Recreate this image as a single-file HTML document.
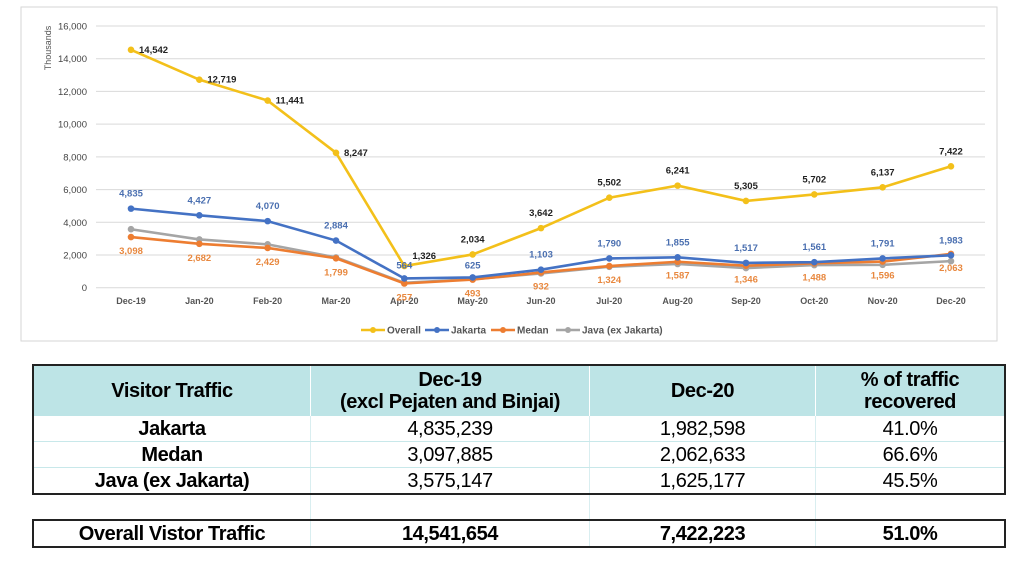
<!DOCTYPE html>
<html><head><meta charset="utf-8"><style>
body{margin:0;width:1030px;height:563px;background:#fff;overflow:hidden;font-family:"Liberation Sans",sans-serif}
#chart{position:absolute;left:0;top:0}
table{position:absolute;left:32px;top:364px;width:974px;border-collapse:collapse;font-family:"Liberation Sans Narrow","Liberation Sans",sans-serif;font-size:20px;color:#000;letter-spacing:-0.4px}
td{text-align:center;padding:0;border-left:1px solid #d9eef0;line-height:22px}
td:first-child{border-left:none}
.h td{background:#bde4e6;height:50px;font-weight:bold;font-size:20px;border-left:1px solid #fff;border-top:2px solid #222}
.r td{height:25px;border-bottom:1px solid #c8e8ea}
.r td:first-child{font-weight:bold;border-left:2px solid #222}
.h td:first-child{border-left:2px solid #222}
.h td:last-child,.r td:last-child{border-right:2px solid #222}
.gap td{height:24px;border-top:2px solid #222}
.o td{height:25px;font-weight:bold;border-top:2px solid #222;border-bottom:2px solid #222}
.o td:first-child{border-left:2px solid #222}
.o td:last-child{border-right:2px solid #222}
</style></head><body>
<svg id="chart" width="1030" height="345" font-family="Liberation Sans, sans-serif">
<rect x="21" y="7" width="976" height="334" fill="#fff" stroke="#d6d6d6"/>
<g id="grid"></g><g id="lines"></g><g id="labels"></g>
<text transform="translate(51,48) rotate(-90)" text-anchor="middle" font-size="9" fill="#555">Thousands</text>
<g id="legend" font-size="10" fill="#555"></g>
</svg>
<table>
<tr class="h"><td style="width:276px">Visitor Traffic</td><td style="width:278px">Dec-19<br>(excl Pejaten and Binjai)</td><td style="width:225px">Dec-20</td><td>% of traffic<br>recovered</td></tr>
<tr class="r"><td>Jakarta</td><td>4,835,239</td><td>1,982,598</td><td>41.0%</td></tr>
<tr class="r"><td>Medan</td><td>3,097,885</td><td>2,062,633</td><td>66.6%</td></tr>
<tr class="r"><td>Java (ex Jakarta)</td><td>3,575,147</td><td>1,625,177</td><td>45.5%</td></tr>
<tr class="gap"><td></td><td></td><td></td><td></td></tr>
<tr class="o"><td>Overall Vistor Traffic</td><td>14,541,654</td><td>7,422,223</td><td>51.0%</td></tr>
</table>
<script>
const categories=["Dec-19","Jan-20","Feb-20","Mar-20","Apr-20","May-20","Jun-20","Jul-20","Aug-20","Sep-20","Oct-20","Nov-20","Dec-20"];
const overall=[14542,12719,11441,8247,1326,2034,3642,5502,6241,5305,5702,6137,7422];
const jakarta=[4835,4427,4070,2884,564,625,1103,1790,1855,1517,1561,1791,1983];
const medan=[3098,2682,2429,1799,257,493,932,1324,1587,1346,1488,1596,2063];
const java=[3575,2950,2650,1850,300,520,870,1280,1450,1200,1380,1400,1625];
const yTicks=[0,2000,4000,6000,8000,10000,12000,14000,16000];
const NS="http://www.w3.org/2000/svg";
const X=i=>131+i*68.33, Y=v=>287.7-v*261.7/16000;
const fmt=v=>v.toLocaleString("en-US");
function mk(t,a,p){const e=document.createElementNS(NS,t);for(const k in a)e.setAttribute(k,a[k]);p.appendChild(e);return e;}
const g=document.getElementById("grid");
yTicks.forEach(t=>{
 const l=mk("line",{x1:96,x2:985,y1:Y(t),y2:Y(t),stroke:"#d9d9d9","stroke-width":1},g);
 
 
 const tx=mk("text",{x:87,y:Y(t)+3.5,"text-anchor":"end","font-size":"9.5",fill:"#444"},g);tx.textContent=fmt(t);
 
 
});
categories.forEach((c,i)=>{
 const tx=mk("text",{x:X(i),y:304,"text-anchor":"middle","font-size":"9","font-weight":"bold",fill:"#555"},g);tx.textContent=c;
 
 
});
const series=[["java",java,"#a5a5a5",null],["medan",medan,"#ed7d31","#e8883f"],["jakarta",jakarta,"#4472c4","#4a6fb0"],["overall",overall,"#f3c01a","#222"]];
const L=document.getElementById("lines"),LB=document.getElementById("labels");
series.forEach(([n,d,col,lc])=>{
 const p=mk("polyline",{points:d.map((v,i)=>X(i)+","+Y(v)).join(" "),fill:"none",stroke:col,"stroke-width":2.6},L);
 
 
 d.forEach((v,i)=>{
  const c=mk("circle",{cx:X(i),cy:Y(v),r:3.3,fill:col},L);
  
  
  if(!lc)return;
  let x=X(i),y=Y(v),a="middle";
  if(n==="overall"){ if(i<4||i==4){x+=8;y+=3;a="start";if(i==4)y-=10;} else y-=12; }
  else if(n==="jakarta"){ y-=12; if(i==4){y=Y(v)-10;} if(i==5)y=Y(v)-9;}
  else { y+=17; if(i==12)y=Y(v)+17; }
  const t=mk("text",{x:x,y:y,"text-anchor":a,"font-size":"9.5","font-weight":"bold",fill:lc},LB);t.textContent=fmt(v);
  
  
 });
});
const lg=document.getElementById("legend");
[["Overall","#f3c01a",361],["Jakarta","#4472c4",425],["Medan","#ed7d31",491],["Java (ex Jakarta)","#a5a5a5",556]].forEach(([n,c,x])=>{
 const l=mk("line",{x1:x,x2:x+24,y1:330,y2:330,stroke:c,"stroke-width":2.5},lg);
 
 
 const ci=mk("circle",{cx:x+12,cy:330,r:3,fill:c},lg);
 
 
 const t=mk("text",{x:x+26,y:333.5,"font-weight":"bold"},lg);t.textContent=n;
 
 
});
</script>
</body></html>
